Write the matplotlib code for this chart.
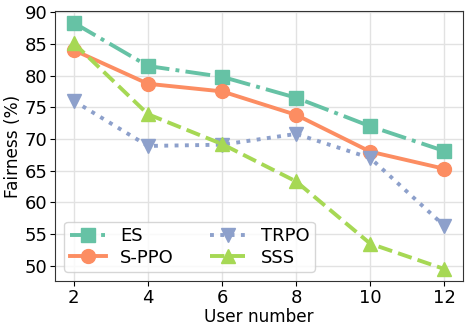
import matplotlib
matplotlib.use("Agg")
import matplotlib.pyplot as plt

x = [2, 4, 6, 8, 10, 12]
es = [88.3, 81.5, 79.8, 76.5, 72.0, 68.1]
sppo = [84.0, 78.7, 77.5, 73.8, 68.0, 65.3]
trpo = [76.0, 68.9, 69.1, 70.8, 67.0, 56.3]
sss = [85.1, 73.9, 69.2, 63.3, 53.5, 49.5]

plt.rcParams['font.family'] = ['DejaVu Sans']
fig, ax = plt.subplots(figsize=(4.69, 3.28), dpi=100)
lw = 2.8
ms = 10
ax.plot(x, es, color='#66c2a5', ls='-.', marker='s', lw=lw, ms=ms, label='ES')
ax.plot(x, sppo, color='#fc8d62', ls='-', marker='o', lw=lw, ms=ms, label='S-PPO')
ax.plot(x, trpo, color='#8da0cb', ls=':', marker='v', lw=lw, ms=ms, label='TRPO')
ax.plot(x, sss, color='#a6d854', ls='--', marker='^', lw=lw, ms=ms, label='SSS')

ax.set_xlim(1.5, 12.5)
ax.set_ylim(47.6, 90.2)
ax.set_xticks(x)
ax.set_yticks([50, 55, 60, 65, 70, 75, 80, 85, 90])
ax.grid(True, color='#e2e2e2', lw=1)
ax.set_axisbelow(True)
for s in ax.spines.values():
    s.set_color('#333333')
ax.tick_params(labelsize=13, pad=2)
ax.set_xlabel('User number', fontsize=12.2, labelpad=1)
ax.set_ylabel('Fairness (%)', fontsize=12.2, labelpad=2)
ax.legend(ncol=2, loc='lower left', fontsize=13, columnspacing=2.0, handlelength=2.0,
          labelspacing=0.2, borderpad=0.3, handletextpad=0.8)
fig.subplots_adjust(left=0.118, right=0.987, top=0.967, bottom=0.143)
fig.savefig('out.png', dpi=100)
